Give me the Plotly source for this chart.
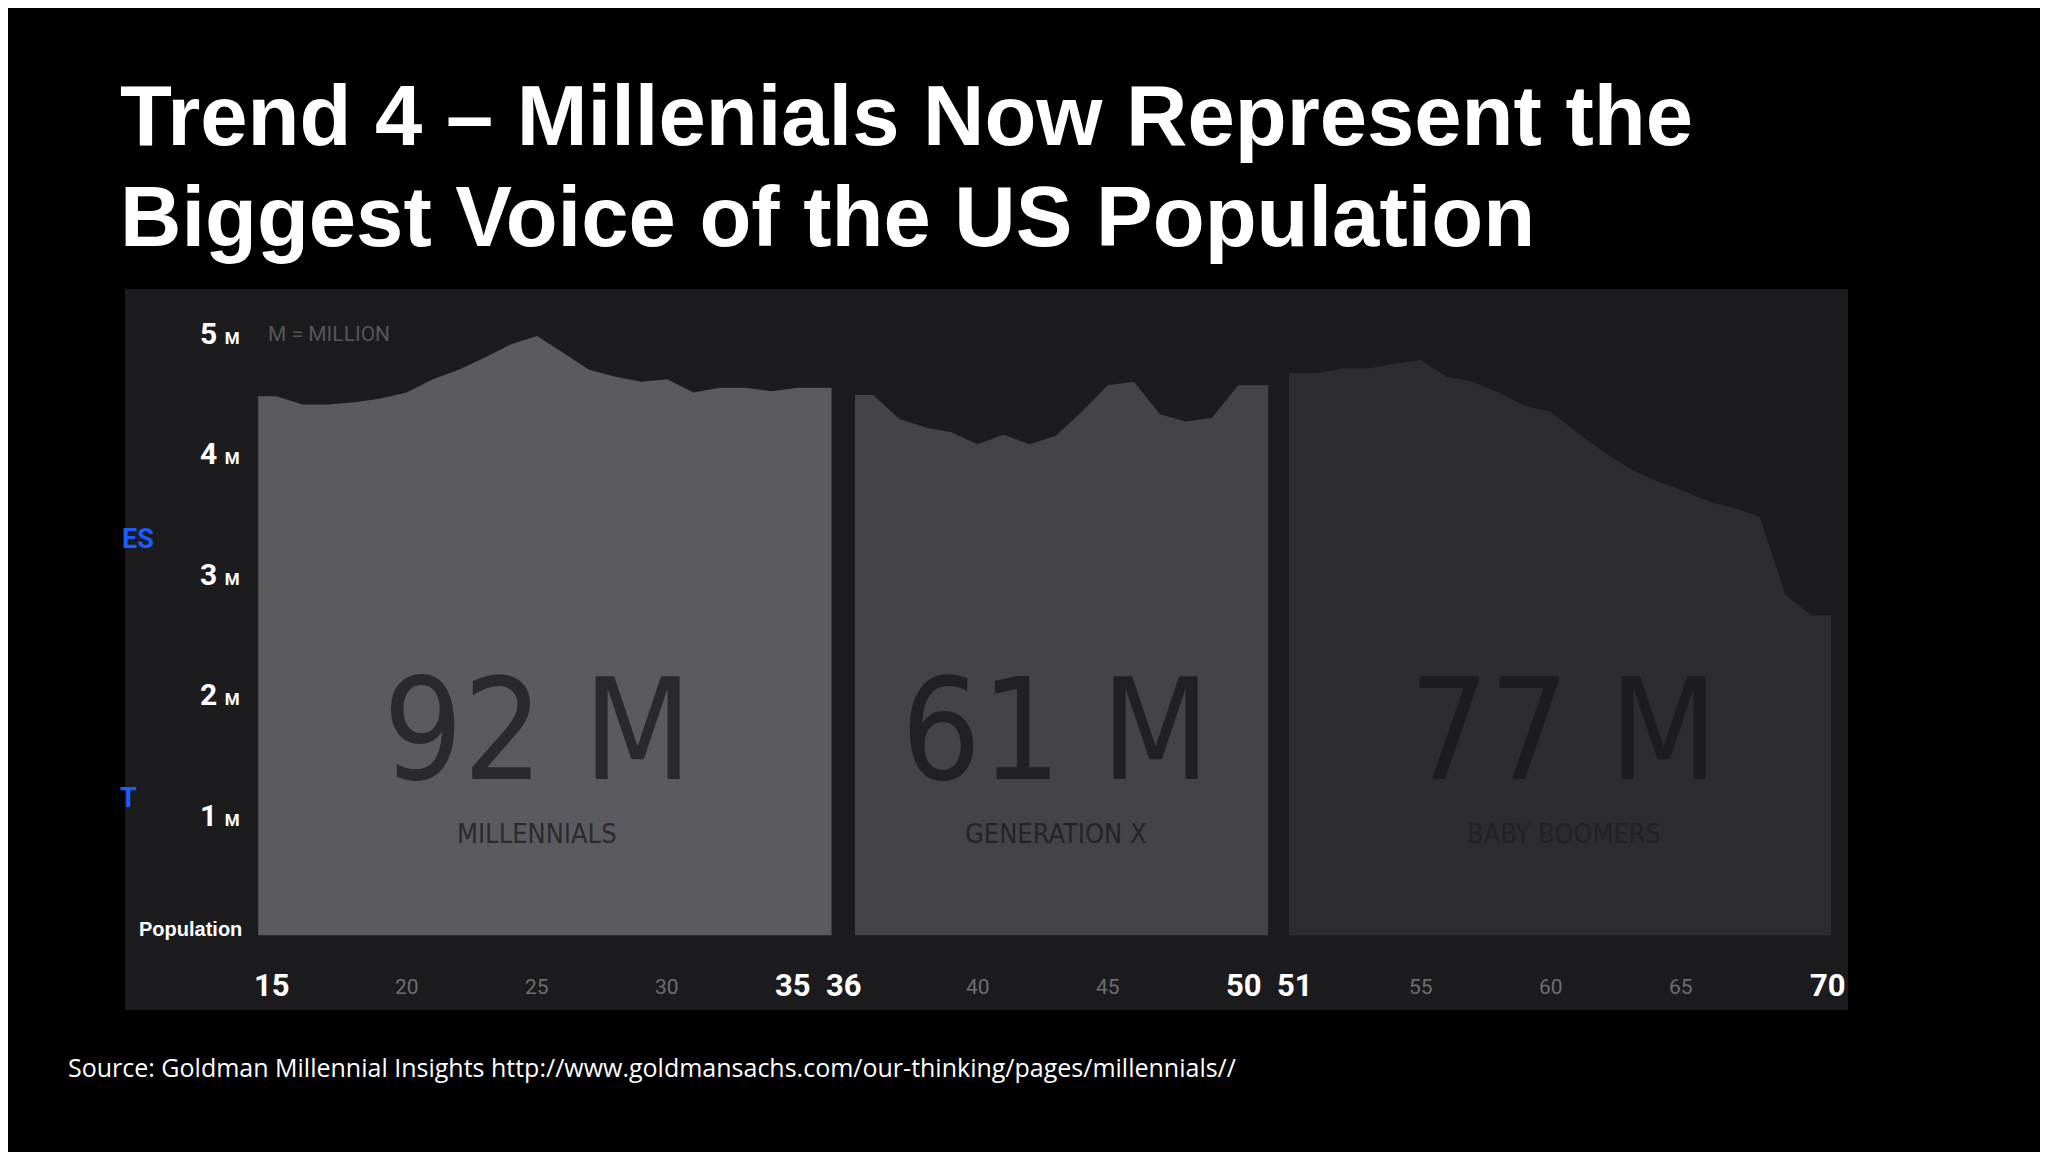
import plotly.graph_objects as go

mill_ages = list(range(15, 36))
mill_vals = [4.48,4.41,4.41,4.43,4.46,4.51,4.62,4.70,4.80,4.91,4.98,4.84,4.70,4.64,4.60,4.62,4.51,4.55,4.55,4.52,4.55]
genx_ages = list(range(36, 51))
genx_vals = [4.49,4.29,4.22,4.18,4.08,4.16,4.08,4.15,4.35,4.57,4.60,4.33,4.27,4.30,4.57]
boom_ages = list(range(51, 71))
boom_vals = [4.67,4.71,4.71,4.75,4.78,4.64,4.60,4.51,4.40,4.35,4.18,4.02,3.88,3.78,3.70,3.61,3.55,3.48,2.83,2.66]

# (big label, name, ages, values, fill, big colour, name colour, axis offset, pad start, pad end)
groups = [
    ("92 M", "MILLENNIALS", mill_ages, mill_vals, "#5b5a5e", "#2a2a2d", "#2b2b2e", 0.0, 0.7, 1.3),
    ("61 M", "GENERATION X", genx_ages, genx_vals, "#444347", "#212123", "#242426", 1.9, 0.7, 1.15),
    ("77 M", "BABY BOOMERS", boom_ages, boom_vals, "#2d2c30", "#1d1d1f", "#222224", 3.9, 1.05, 0.75),
]
bold_ticks = [15, 35, 36, 50, 51, 70]
bold_shift = [-4, -5, -29, 6, -21, 16]
minor_ticks = [20, 25, 30, 40, 45, 55, 60, 65]
y_ticks = [1, 2, 3, 4, 5]

def offset_for(age):
    for g in groups:
        if g[2][0] <= age <= g[2][-1]:
            return g[7]
    return 0.0

fig = go.Figure()
ann = []
for big, name, ages, vals, col, bigcol, namecol, off, ps, pe in groups:
    xi = [a + off for a in ages]
    xs = [xi[0] - ps] + xi + [xi[-1] + pe]
    ys = [vals[0]] + vals + [vals[-1]]
    fig.add_trace(go.Scatter(x=xs, y=ys, mode="lines", fill="tozeroy", fillcolor=col,
                             line=dict(color=col, width=0), hoverinfo="skip", showlegend=False))
    cx = sum(xi) / len(xi)
    ann.append(dict(x=cx, y=1.7, text=big, showarrow=False,
                    font=dict(family="DejaVu Sans Condensed, Liberation Sans Narrow, Roboto", size=140, color=bigcol)))
    ann.append(dict(x=cx, y=0.85, text=name, showarrow=False,
                    font=dict(family="DejaVu Sans Condensed, Roboto", size=27, color=namecol)))

for t, s in zip(bold_ticks, bold_shift):
    ann.append(dict(x=t + offset_for(t), y=-0.42, xshift=s, text=f"<b>{t}</b>", showarrow=False,
                    font=dict(family="Roboto", size=31, color="white")))
for t in minor_ticks:
    ann.append(dict(x=t + offset_for(t), y=-0.43, text=str(t), showarrow=False,
                    font=dict(family="Roboto", size=21, color="#6e6e72")))
for v in y_ticks:
    ann.append(dict(x=12.84, y=v, text=f"<b>{v}</b> <b><span style='font-size:17px'>M</span></b>", showarrow=False,
                    font=dict(family="Roboto", size=30, color="white")))
ann.append(dict(x=11.69, y=0.05, text="<b>Population</b>", showarrow=False,
                font=dict(family="Liberation Sans, Arial", size=20, color="white")))
ann.append(dict(x=14.6, y=5.0, text="M = MILLION", showarrow=False, xanchor="left",
                font=dict(family="Roboto", size=21, color="#56565a")))
ann.append(dict(x=9.69, y=3.29, text="<b>ES</b>", showarrow=False,
                font=dict(family="Roboto", size=27, color="#1d5cff")))
ann.append(dict(x=9.34, y=1.14, text="<b>T</b>", showarrow=False,
                font=dict(family="Roboto", size=27, color="#1d5cff")))

ann.append(dict(xref="paper", yref="paper", x=-0.004, y=1.24, xanchor="left", yanchor="middle",
                text="<b>Trend 4 – Millenials Now Represent the</b>", showarrow=False,
                font=dict(family="Liberation Sans, Arial", size=85, color="white")))
ann.append(dict(xref="paper", yref="paper", x=-0.004, y=1.10, xanchor="left", yanchor="middle",
                text="<b>Biggest Voice of the US Population</b>", showarrow=False,
                font=dict(family="Liberation Sans, Arial", size=85, color="white")))
ann.append(dict(xref="paper", yref="paper", x=-0.034, y=-0.079, xanchor="left", yanchor="middle",
                text="Source: Goldman Millennial Insights http://www.goldmansachs.com/our-thinking/pages/millennials//",
                showarrow=False, font=dict(family="Open Sans, Noto Sans", size=25, color="white")))

for a in ann:
    a.setdefault("xref", "x")
    a.setdefault("yref", "y")

fig.update_layout(
    width=2048, height=1152,
    margin=dict(l=117, r=208, t=281, b=150),
    paper_bgcolor="black", plot_bgcolor="#1c1c1e",
    xaxis=dict(range=[9.19, 75.30], visible=False, fixedrange=True),
    yaxis=dict(range=[-0.62, 5.37], visible=False, fixedrange=True),
    annotations=ann, showlegend=False,
)
fig.write_html("out.html")
